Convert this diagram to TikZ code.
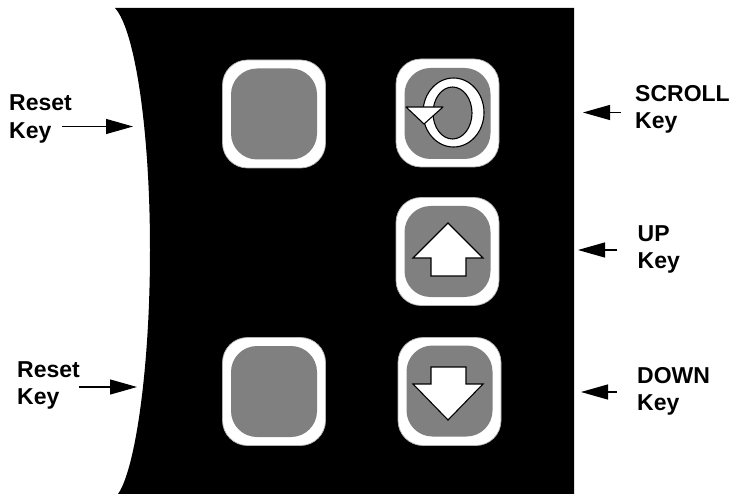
\documentclass[tikz,border=0pt]{standalone}
\usepackage{fontspec}
\setmainfont{Liberation Sans}
\usetikzlibrary{arrows.meta}
\definecolor{keygray}{HTML}{808080}
\tikzset{
  lbl/.style={anchor=north west,inner sep=0pt,align=left,font=\fontsize{23}{27.5}\selectfont\bfseries},
  keyouter/.style={draw=white!70!black,line width=0.7pt,fill=white,rounded corners=25pt,minimum width=103pt,minimum height=108pt,inner sep=0pt},
  keyinner/.style={fill=keygray,rounded corners=26pt,minimum width=86pt,minimum height=91pt,inner sep=0pt},
  sym/.style={draw=black,fill=white,line width=1.1pt,line join=miter},
  pointer/.style={-{Triangle[length=27pt,width=15pt]},line width=1.2pt,black}
}
\begin{document}
\begin{tikzpicture}[x=1pt,y=-1pt]
\useasboundingbox (0,0) rectangle (730,494);
% panel
\fill[black] (115,8) .. controls (135,30) and (150,130) .. (150,250) .. controls (150,370) and (135,470) .. (118,494) -- (574,494) -- (574,8) -- cycle;
% keys
\node[keyouter] (k1o) at (274,114) {};
\node[keyinner] (k1i) at (274,114) {};
\node[keyouter] (k2o) at (274,391.5) {};
\node[keyinner] (k2i) at (274,391.5) {};
\node[keyouter] (k3o) at (447.5,113) {};
\node[keyinner] (k3i) at (447.5,113.5) {};
\node[keyouter] (k4o) at (447.5,251.5) {};
\node[keyinner] (k4i) at (447.5,251.5) {};
\node[keyouter] (k5o) at (449.5,391.5) {};
\node[keyinner] (k5i) at (449.5,391) {};
% scroll symbol
\path[sym,even odd rule] (453.5,112.5) ellipse [x radius=30.5pt,y radius=34.5pt] (452.5,113) ellipse [x radius=19.5pt,y radius=26pt];
\path[sym,line join=round] (406,107) -- (443,107) -- (424,124) -- cycle;
% up
\path[sym] (448,223) -- (483,258) -- (466,258) -- (466,276) -- (431,276) -- (431,258) -- (413,258) -- cycle;
% down
\path[sym] (448,420) -- (483,384) -- (466,384) -- (466,367) -- (431,367) -- (431,384) -- (413,384) -- cycle;
% labels
\node[lbl] (l1) at (9,94.5) {Reset\\Key};
\node[lbl] (l2) at (17,361) {Reset\\Key};
\node[lbl] (l3) at (635,85) {SCROLL\\Key};
\node[lbl] (l4) at (637.5,225) {UP\\Key};
\node[lbl] (l5) at (637,367) {DOWN\\Key};
% arrow targets
\coordinate (a1s) at (62,126.5); \coordinate (a1e) at (133,126.5);
\coordinate (a2s) at (79,387); \coordinate (a2e) at (137,387);
\coordinate (a3s) at (621,112.5); \coordinate (a3e) at (583,112.5);
\coordinate (a4s) at (617,250); \coordinate (a4e) at (578,250);
\coordinate (a5s) at (617,392); \coordinate (a5e) at (581,392);
\draw[pointer] (a1s) -- (a1e);
\draw[pointer] (a2s) -- (a2e);
\draw[pointer] (a3s) -- (a3e);
\draw[pointer] (a4s) -- (a4e);
\draw[pointer] (a5s) -- (a5e);
\end{tikzpicture}
\end{document}
